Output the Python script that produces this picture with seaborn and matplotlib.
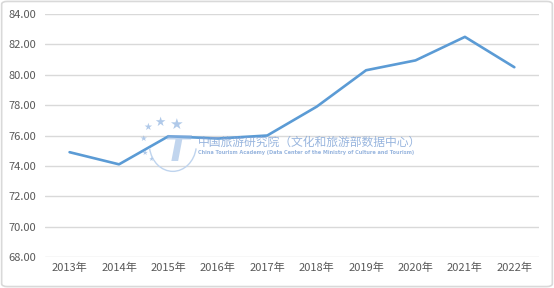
import matplotlib
matplotlib.use("Agg")
import matplotlib.pyplot as plt
import seaborn as sns
import pandas as pd
from matplotlib.patches import FancyBboxPatch, Arc

years = ["2013年", "2014年", "2015年", "2016年", "2017年", "2018年", "2019年", "2020年", "2021年", "2022年"]
values = [74.9, 74.1, 75.95, 75.8, 76.0, 77.9, 80.3, 80.95, 82.5, 80.5]
yticks = [68, 70, 72, 74, 76, 78, 80, 82, 84]

sns.set_theme(style="white")
plt.rcParams['font.family'] = ['Noto Sans CJK SC', 'DejaVu Sans']

df = pd.DataFrame({"year": years, "value": values})

fig = plt.figure(figsize=(5.54, 2.88), dpi=100)
ax = fig.add_axes([0.081, 0.108, 0.892, 0.843])

sns.lineplot(data=df, x="year", y="value", ax=ax, color="#5B9BD5", linewidth=1.9, sort=False)

ax.set_xlim(-0.5, len(years) - 0.5)
ax.set_ylim(68, 84)
ax.set_yticks(yticks)
ax.set_yticklabels([f"{v:.2f}" for v in yticks])
ax.yaxis.grid(True, color="#D9D9D9", linewidth=1.0)
ax.set_axisbelow(True)
for s in ax.spines.values():
    s.set_visible(False)
ax.tick_params(axis="both", length=0, labelsize=8, labelcolor="#595959", pad=4)
ax.tick_params(axis="y", pad=6)
ax.set_xlabel("")
ax.set_ylabel("")

# border
border = FancyBboxPatch((0.003, 0.005), 0.994, 0.99, boxstyle="round,pad=0,rounding_size=0.01",
                        transform=fig.transFigure, fill=False, edgecolor="#D9D9D9", linewidth=1.2)
fig.patches.append(border)

# watermark
wc = "#7FA3D6"
fig.text(0.357, 0.507, "中国旅游研究院（文化和旅游部数据中心）", fontsize=8.5, color=wc, alpha=0.8,
         va="center", ha="left", family=['Noto Sans CJK SC', 'DejaVu Sans'])
fig.text(0.357, 0.472, "China Tourism Academy (Data Center of the Ministry of Culture and Tourism)",
         fontsize=3.6, color=wc, alpha=0.8, va="center", ha="left", fontweight="bold",
         family=['DejaVu Sans'])
fig.text(0.318, 0.475, "T", fontsize=26, color="#8FB3E0", alpha=0.55, va="center", ha="center",
         fontweight="bold", style="italic", family=['DejaVu Sans'])
arc = Arc((0.312, 0.50), 0.085, 0.19, theta1=200, theta2=340, transform=fig.transFigure,
          color="#BFD4EE", linewidth=1.0)
fig.patches.append(arc)
for (x, y, s) in [(0.258, 0.52, 6), (0.267, 0.56, 7), (0.289, 0.575, 9), (0.318, 0.568, 11),
                  (0.262, 0.47, 5), (0.272, 0.445, 4)]:
    fig.text(x, y, "★", fontsize=s, color="#8FB3E0", alpha=0.7, va="center", ha="center",
             family=['DejaVu Sans'])

fig.savefig("out.png", dpi=100)
